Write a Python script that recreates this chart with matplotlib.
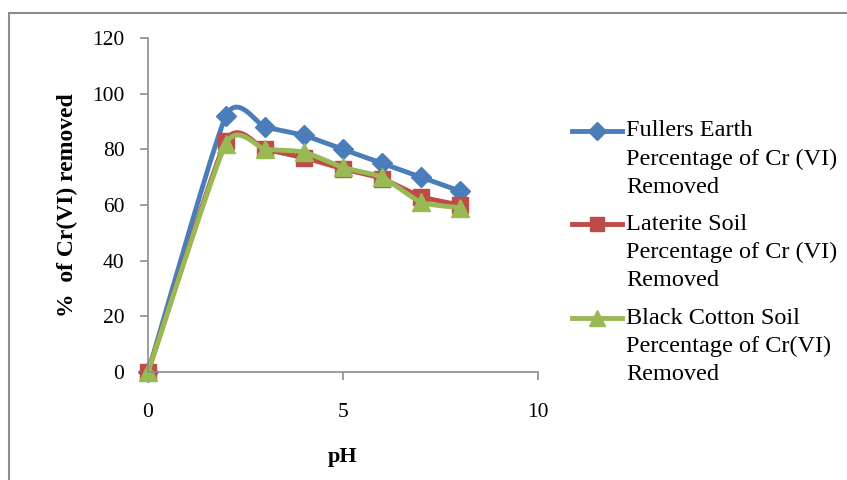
import numpy as np
import matplotlib
matplotlib.use("Agg")
import matplotlib.pyplot as plt
from matplotlib.patches import Rectangle
from matplotlib.lines import Line2D

# data
ph = [0, 2, 3, 4, 5, 6, 7, 8]
fullers = [0, 92, 88, 85, 80, 75, 70, 65]
laterite = [0, 83, 80, 77, 73, 69.5, 63, 60]
black_cotton = [0, 82, 80, 79, 73.5, 70, 61, 59]

labels = [
    "Fullers Earth\nPercentage of Cr (VI)\nRemoved",
    "Laterite Soil\nPercentage of Cr (VI)\nRemoved",
    "Black Cotton Soil\nPercentage of Cr(VI)\nRemoved",
]
colors = ["#4A7EBB", "#BE4B48", "#98B954"]
markers = ["D", "s", "^"]
msizes = [10, 11, 13]


def smooth(x, y, n=20):
    # Catmull-Rom style smoothing, like Excel's smoothed line
    x = np.asarray(x, float)
    y = np.asarray(y, float)
    px = np.concatenate([[2 * x[0] - x[1]], x, [2 * x[-1] - x[-2]]])
    py = np.concatenate([[2 * y[0] - y[1]], y, [2 * y[-1] - y[-2]]])
    xs, ys = [], []
    t = np.linspace(0, 1, n)
    for i in range(1, len(px) - 2):
        for p, out in ((px, xs), (py, ys)):
            p0, p1, p2, p3 = p[i - 1], p[i], p[i + 1], p[i + 2]
            m1 = (p2 - p0) / 2 * 0.6
            m2 = (p3 - p1) / 2 * 0.6
            h00 = 2 * t**3 - 3 * t**2 + 1
            h10 = t**3 - 2 * t**2 + t
            h01 = -2 * t**3 + 3 * t**2
            h11 = t**3 - t**2
            out.extend(h00 * p1 + h10 * m1 + h01 * p2 + h11 * m2)
    return np.array(xs), np.array(ys)


plt.rcParams["font.family"] = ["Liberation Serif", "DejaVu Serif"]

W, H = 847, 480
fig = plt.figure(figsize=(W / 100, H / 100), dpi=100)
fig.patches.append(Rectangle((9 / W, -0.1), 1.2, 1.1 - 13 / H,
                             transform=fig.transFigure, fill=False,
                             edgecolor="#8c8c8c", linewidth=1.5))
ax = fig.add_axes([148 / W, 1 - 372 / H, (538 - 148) / W, (372 - 38) / H])

for yv, c, m, ms in zip([fullers, laterite, black_cotton], colors, markers, msizes):
    sx, sy = smooth(ph, yv)
    ax.plot(sx, sy, color=c, linewidth=3.5, solid_capstyle="round", clip_on=False)
    ax.plot(ph, yv, linestyle="none", marker=m, markersize=ms, color=c, clip_on=False)

ax.set_xlim(0, 10)
ax.set_ylim(0, 120)
ax.set_xticks([0, 5, 10])
ax.set_yticks(range(0, 121, 20))
for s in ["top", "right"]:
    ax.spines[s].set_visible(False)
for s in ["left", "bottom"]:
    ax.spines[s].set_color("#8c8c8c")
    ax.spines[s].set_linewidth(1.2)
ax.tick_params(colors="#8c8c8c", labelcolor="black", labelsize=15.5, length=6, width=1.2)
ax.tick_params(axis="y", pad=11)
ax.tick_params(axis="x", pad=16)

ax.set_xlabel("pH", fontsize=16, fontweight="bold", labelpad=18)
ax.set_ylabel("%  of Cr(VI) removed", fontsize=17, fontweight="bold", labelpad=10)

# legend drawn by hand so the key sits on the first text line
entry_top = [131, 224, 318]
line_gap = 28.3
for top, lab, c, m, ms in zip(entry_top, labels, colors, markers, msizes):
    yf = 1 - top / H
    fig.add_artist(Line2D([572 / W, 622 / W], [yf, yf], transform=fig.transFigure,
                          color=c, linewidth=3.5))
    fig.add_artist(Line2D([597 / W], [yf], transform=fig.transFigure, color=c,
                          marker=m, markersize=ms - 1, linestyle="none"))
    for k, part in enumerate(lab.split("\n")):
        fig.text(626 / W, 1 - (top + k * line_gap) / H, part, fontsize=17.5,
                 va="center", ha="left")

fig.savefig("out.png", dpi=100)
